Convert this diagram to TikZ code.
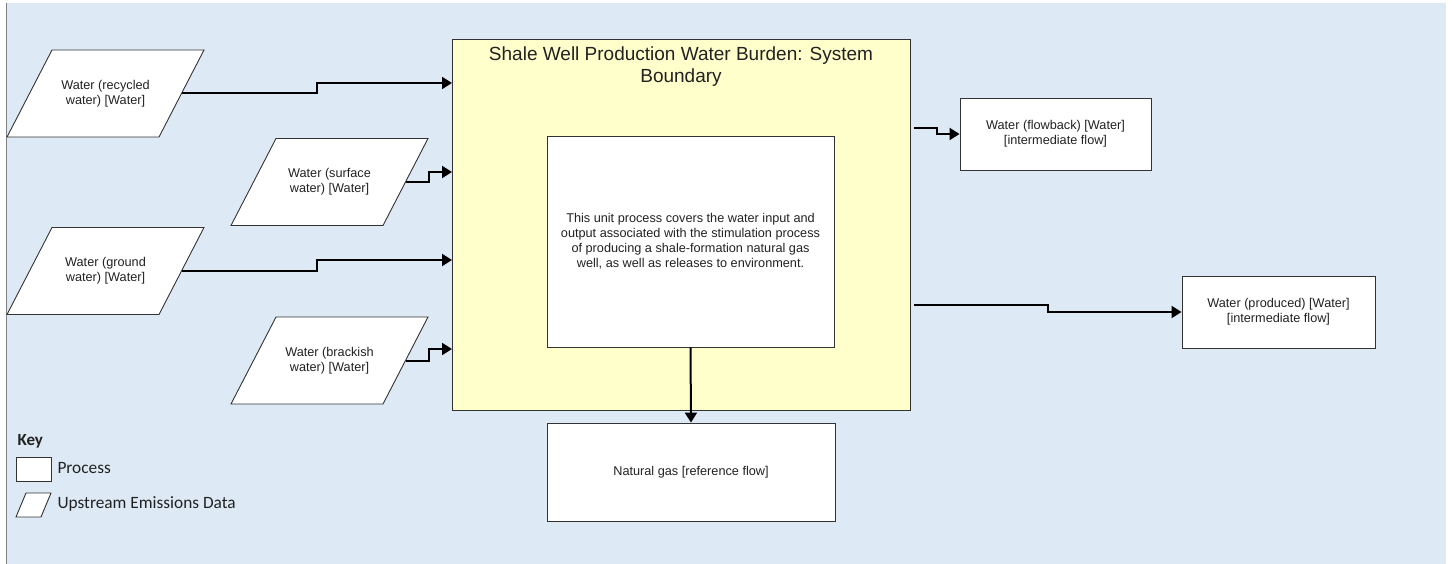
\documentclass[tikz,border=0pt]{standalone}
\usepackage{fontspec}
\setmainfont{Liberation Sans}
\newfontfamily\keyfont{Carlito}
\usetikzlibrary{arrows.meta}

\definecolor{backblue}{RGB}{221,234,245}
\definecolor{boundyellow}{RGB}{255,255,204}
\definecolor{edgegray}{RGB}{51,51,51}
\definecolor{txtgray}{RGB}{34,34,34}

\begin{document}
\begin{tikzpicture}[x=1pt, y=-1pt,
    edge/.style={draw=edgegray, line width=0.9pt},
    box/.style={edge, fill=white, text=txtgray, align=center,
        font=\fontsize{12.7}{15}\selectfont},
    upstream/.style={text=txtgray, align=center, font=\fontsize{12.7}{15}\selectfont,
        minimum width=152pt, minimum height=87pt, inner sep=0pt},
    flow/.style={line width=2pt, -{Triangle[length=10pt,width=12pt]}}]
    \useasboundingbox (0,0) rectangle (1452,564);
    \fill [backblue] (6,3) rectangle (1446,564);
    \draw [gray, line width=0.8pt] (6,3) -- (6,564);

    % system boundary with the unit process inside
    \node[box, fill=boundyellow, minimum width=458pt, minimum height=371pt] (boundary) at (681,224.5) {};
    \node[text=txtgray, align=center, font=\fontsize{19}{22}\selectfont] (title) at (681,67) {Shale Well Production Water Burden: System\\Boundary};
    \node[box, minimum width=287pt, minimum height=211pt] (unit) at (690.5,241.5) {This unit process covers the water input and\\output associated with the stimulation process\\of producing a shale-formation natural gas\\well, as well as releases to environment.};

    % upstream inputs (parallelograms)
    \foreach \name/\cx/\cy/\txt in {recycled/105.5/93.5/{Water (recycled\\water) [Water]},
        surface/329.5/182/{Water (surface\\water) [Water]},
        ground/105.5/271/{Water (ground\\water) [Water]},
        brackish/329.5/360.5/{Water (brackish\\water) [Water]}} {
        \draw [edge, fill=white] (\cx-98.5,\cy+43.5) -- (\cx-53.5,\cy-43.5) -- (\cx+98.5,\cy-43.5) -- (\cx+53.5,\cy+43.5) -- cycle;
        \node[upstream] (\name) at (\cx,\cy) {\txt};
    }

    % outputs
    \node[box, minimum width=191pt, minimum height=72pt] (flowback) at (1055.5,134) {Water (flowback) [Water]\\{}[intermediate flow]};
    \node[box, minimum width=193pt, minimum height=72pt] (produced) at (1278.5,312) {Water (produced) [Water]\\{}[intermediate flow]};
    \node[box, minimum width=288pt, minimum height=98pt] (natgas) at (691,472) {Natural gas [reference flow]};

    \coordinate (recycledin) at (452,83);
    \coordinate (surfacein) at (452,172);
    \coordinate (groundin) at (452,260);
    \coordinate (brackishin) at (452,349);
    \coordinate (flowbackout) at (914,128);
    \coordinate (producedout) at (914,305);

    \draw [flow] (recycled.east) -- ++(135,0) |- (recycledin);
    \draw [flow] (surface.east) -- ++(23,0) |- (surfacein);
    \draw [flow] (ground.east) -- ++(135,0) |- (groundin);
    \draw [flow] (brackish.east) -- ++(23,0) |- (brackishin);
    \draw [flow] (flowbackout) -- ++(23,0) |- (flowback.west);
    \draw [flow] (producedout) -- ++(134,0) |- (produced.west);
    \draw [flow] (unit.south) -- (natgas.north);

    % key
    \node[anchor=west, text=txtgray, font=\keyfont\bfseries\fontsize{17}{20}\selectfont] (key) at (14,441) {Key};
    \node[box, minimum width=35pt, minimum height=24pt, inner sep=0pt] (keyproc) at (33.5,469) {};
    \node[anchor=west, text=txtgray, font=\keyfont\fontsize{17.3}{20}\selectfont] (keyproctxt) at (54,468) {Process};
    \draw [edge, fill=white] (16,517) -- (26,493) -- (51,493) -- (41,517) -- cycle;
    \node[anchor=west, text=txtgray, font=\keyfont\fontsize{17.3}{20}\selectfont] (keyuptxt) at (54,504) {Upstream Emissions Data};
\end{tikzpicture}
\end{document}
